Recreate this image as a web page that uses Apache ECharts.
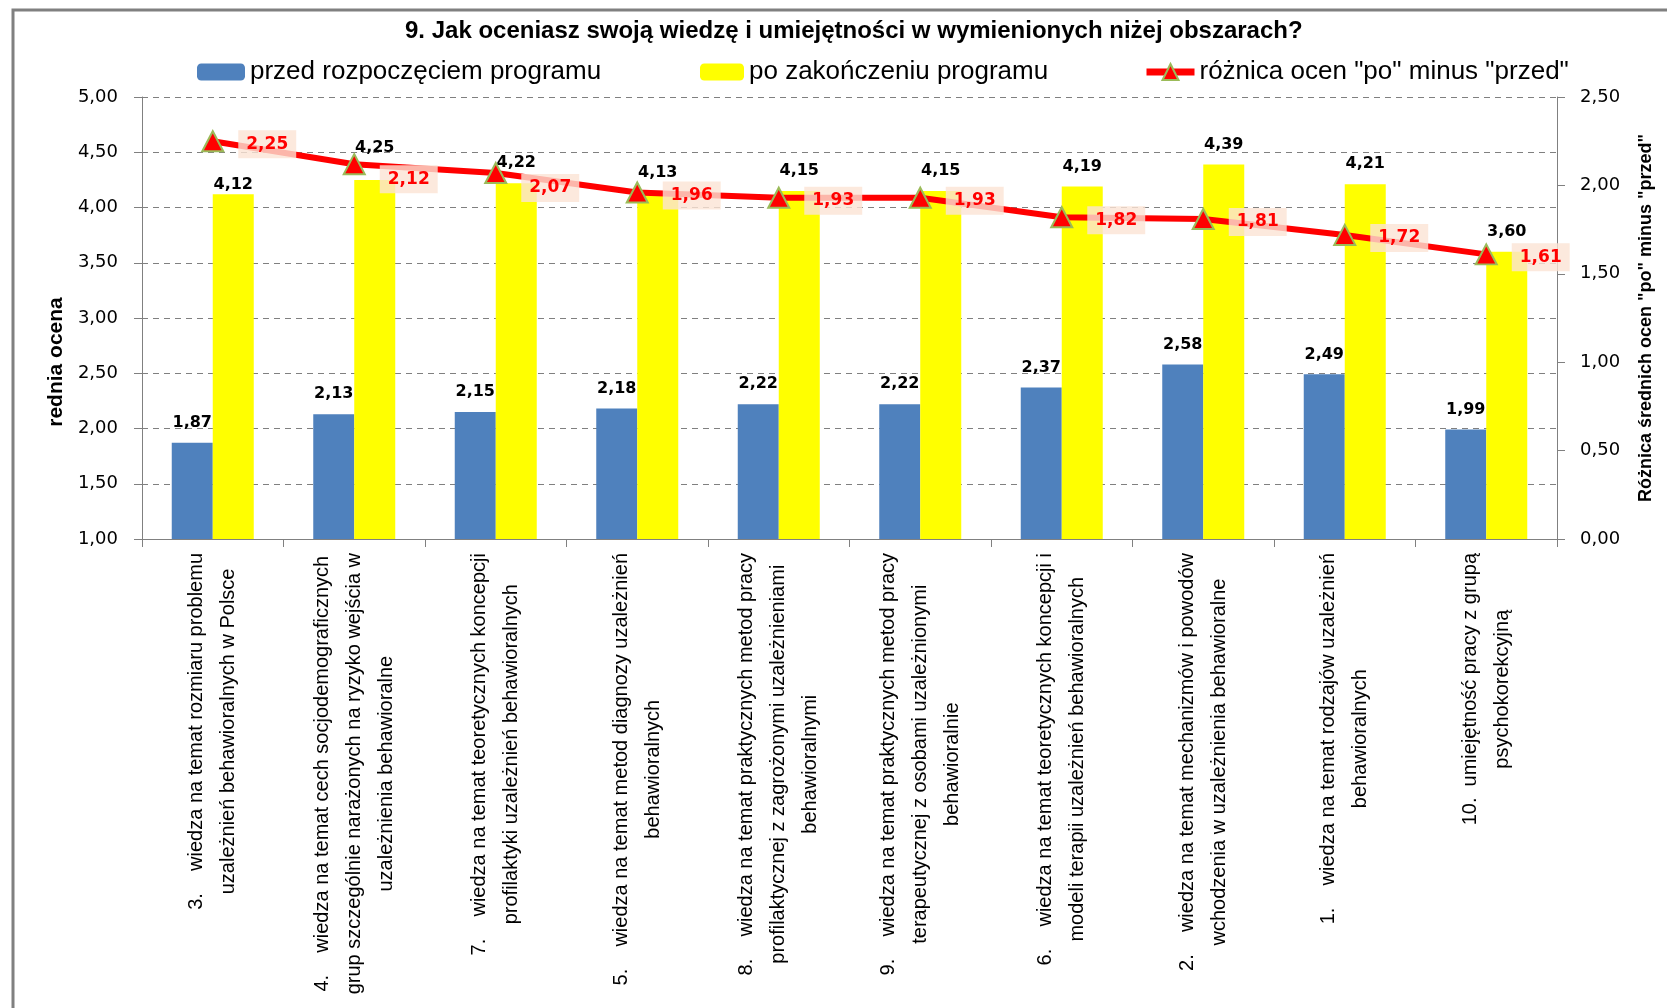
<!DOCTYPE html>
<html>
<head>
<meta charset="utf-8">
<script src="https://cdn.jsdelivr.net/npm/echarts@6/dist/echarts.min.js"></script>
<style>
html,body{margin:0;padding:0;background:#fff;}
#chart{width:1667px;height:1008px;}
</style>
</head>
<body>
<div id="chart"></div>
<script>
const titleText = '9. Jak oceniasz swoją wiedzę i umiejętności w wymienionych niżej obszarach?';
const seriesNames = ['przed rozpoczęciem programu', 'po zakończeniu programu', 'różnica ocen "po" minus "przed"'];
const categories = [
  '3.    wiedza na temat rozmiaru problemu\nuzależnień behawioralnych w Polsce',
  '4.    wiedza na temat cech socjodemograficznych\ngrup szczególnie narażonych na ryzyko wejścia w\nuzależnienia behawioralne',
  '7.    wiedza na temat teoretycznych koncepcji\nprofilaktyki uzależnień behawioralnych',
  '5.    wiedza na temat metod diagnozy uzależnień\nbehawioralnych',
  '8.    wiedza na temat praktycznych metod pracy\nprofilaktycznej z zagrożonymi uzależnieniami\nbehawioralnymi',
  '9.    wiedza na temat praktycznych metod pracy\nterapeutycznej z osobami uzależnionymi\nbehawioralnie',
  '6.    wiedza na temat teoretycznych koncepcji i\nmodeli terapii uzależnień behawioralnych',
  '2.    wiedza na temat mechanizmów i powodów\nwchodzenia w uzależnienia behawioralne',
  '1.    wiedza na temat rodzajów uzależnień\nbehawioralnych',
  '10.  umiejętność pracy z grupą\npsychokorekcyjną'
];
const before = [1.87, 2.13, 2.15, 2.18, 2.22, 2.22, 2.37, 2.58, 2.49, 1.99];
const after  = [4.12, 4.25, 4.22, 4.13, 4.15, 4.15, 4.19, 4.39, 4.21, 3.60];
const diff   = [2.25, 2.12, 2.07, 1.96, 1.93, 1.93, 1.82, 1.81, 1.72, 1.61];
const leftAxisName = 'rednia ocena';
const rightAxisName = 'Różnica średnich ocen "po" minus "przed"';

const fmt = v => Number(v).toFixed(2).replace('.', ',');
const numFont = 'DejaVu Sans';
const txtFont = 'Liberation Sans';

// label nudges (as in the source chart, some labels were moved by hand)
const afterLabelOffsets = {0: [0, 11], 1: [0, -12]};
const diffLabelOffsets = {1: [0, 15], 2: [0, 15]};

const afterData = after.map((v, i) => afterLabelOffsets[i] ? {value: v, label: {offset: afterLabelOffsets[i]}} : v);
const diffData = diff.map((v, i) => diffLabelOffsets[i] ? {value: v, label: {offset: diffLabelOffsets[i]}} : v);

const legendText = {fontFamily: txtFont, fontSize: 26, color: '#000'};

const chart = echarts.init(document.getElementById('chart'), null, {renderer: 'canvas'});
chart.setOption({
  backgroundColor: '#ffffff',
  animation: false,
  graphic: [{
    type: 'rect', shape: {x: 13, y: 10, width: 1700, height: 1100},
    style: {fill: 'none', stroke: '#808080', lineWidth: 3}, z: -1
  }],
  title: {
    text: titleText, left: 405, top: 19, padding: 0,
    textStyle: {fontFamily: txtFont, fontSize: 24, fontWeight: 'bold', color: '#000'}
  },
  legend: [
    {data: [seriesNames[0]], left: 197, top: 59, padding: 0, itemWidth: 48, itemHeight: 17, textStyle: legendText},
    {data: [seriesNames[1]], left: 700, top: 59, padding: 0, itemWidth: 44, itemHeight: 17, textStyle: legendText},
    {data: [seriesNames[2]], left: 1143, top: 59, padding: 0, itemWidth: 48, itemHeight: 20, textStyle: legendText,
     lineStyle: {width: 7, color: '#FF0000'}}
  ],
  grid: {left: 142, right: 110, top: 97, bottom: 469, containLabel: false, outerBoundsMode: 'none'},
  xAxis: {
    type: 'category', data: categories,
    axisLine: {lineStyle: {color: '#808080', width: 1}},
    axisTick: {show: true, length: 8, lineStyle: {color: '#808080'}},
    axisLabel: {
      interval: 0, rotate: 90, margin: 14,
      formatter: v => v.split('\n').map(l => '{c|' + l + '}').join('\n'),
      rich: {c: {align: 'center', fontFamily: txtFont, fontSize: 20, lineHeight: 32, color: '#000'}}
    }
  },
  yAxis: [
    {
      type: 'value', min: 1, max: 5, interval: 0.5, position: 'left',
      name: leftAxisName, nameLocation: 'middle', nameRotate: 90, nameGap: 72,
      nameTextStyle: {fontFamily: txtFont, fontSize: 21, fontWeight: 'bold', color: '#000', padding: [0, 88, 0, 0]},
      axisLine: {show: true, lineStyle: {color: '#808080'}},
      axisTick: {show: true, length: 8, lineStyle: {color: '#808080'}},
      axisLabel: {formatter: fmt, fontFamily: numFont, fontSize: 18, color: '#000', margin: 24},
      splitLine: {show: true, lineStyle: {color: '#808080', type: [6, 5], width: 1}}
    },
    {
      type: 'value', min: 0, max: 2.5, interval: 0.5, position: 'right',
      name: rightAxisName, nameLocation: 'middle', nameRotate: 90, nameGap: 80,
      nameTextStyle: {fontFamily: txtFont, fontSize: 18, fontWeight: 'bold', color: '#000'},
      axisLine: {show: true, lineStyle: {color: '#808080'}},
      axisTick: {show: true, length: 8, lineStyle: {color: '#808080'}},
      axisLabel: {formatter: fmt, fontFamily: numFont, fontSize: 18, color: '#000', margin: 23},
      splitLine: {show: false}
    }
  ],
  series: [
    {
      name: seriesNames[0], type: 'bar', data: before, yAxisIndex: 0,
      barWidth: 41, barGap: '0%',
      itemStyle: {color: '#4F81BD'},
      label: {show: true, position: 'top', distance: 12, formatter: p => fmt(p.value),
        fontFamily: numFont, fontWeight: 'bold', fontSize: 16, color: '#000'}
    },
    {
      name: seriesNames[1], type: 'bar', data: afterData, yAxisIndex: 0,
      barWidth: 41, barGap: '0%',
      itemStyle: {color: '#FFFF00'},
      label: {show: true, position: 'top', distance: 12, formatter: p => fmt(p.value),
        fontFamily: numFont, fontWeight: 'bold', fontSize: 16, color: '#000'}
    },
    {
      name: seriesNames[2], type: 'line', data: diffData, yAxisIndex: 1,
      symbol: 'triangle', symbolSize: [21, 20],
      lineStyle: {color: '#FF0000', width: 6},
      itemStyle: {color: '#FF0000', borderColor: '#9BBB59', borderWidth: 2},
      label: {show: true, position: 'right', distance: 14, formatter: p => fmt(p.value),
        fontFamily: numFont, fontWeight: 'bold', fontSize: 17, color: '#FF0000',
        backgroundColor: 'rgba(251,227,212,0.8)', padding: [6, 8, 5, 8], offset: [0, 3]},
      z: 5
    }
  ]
});
</script>
</body>
</html>
